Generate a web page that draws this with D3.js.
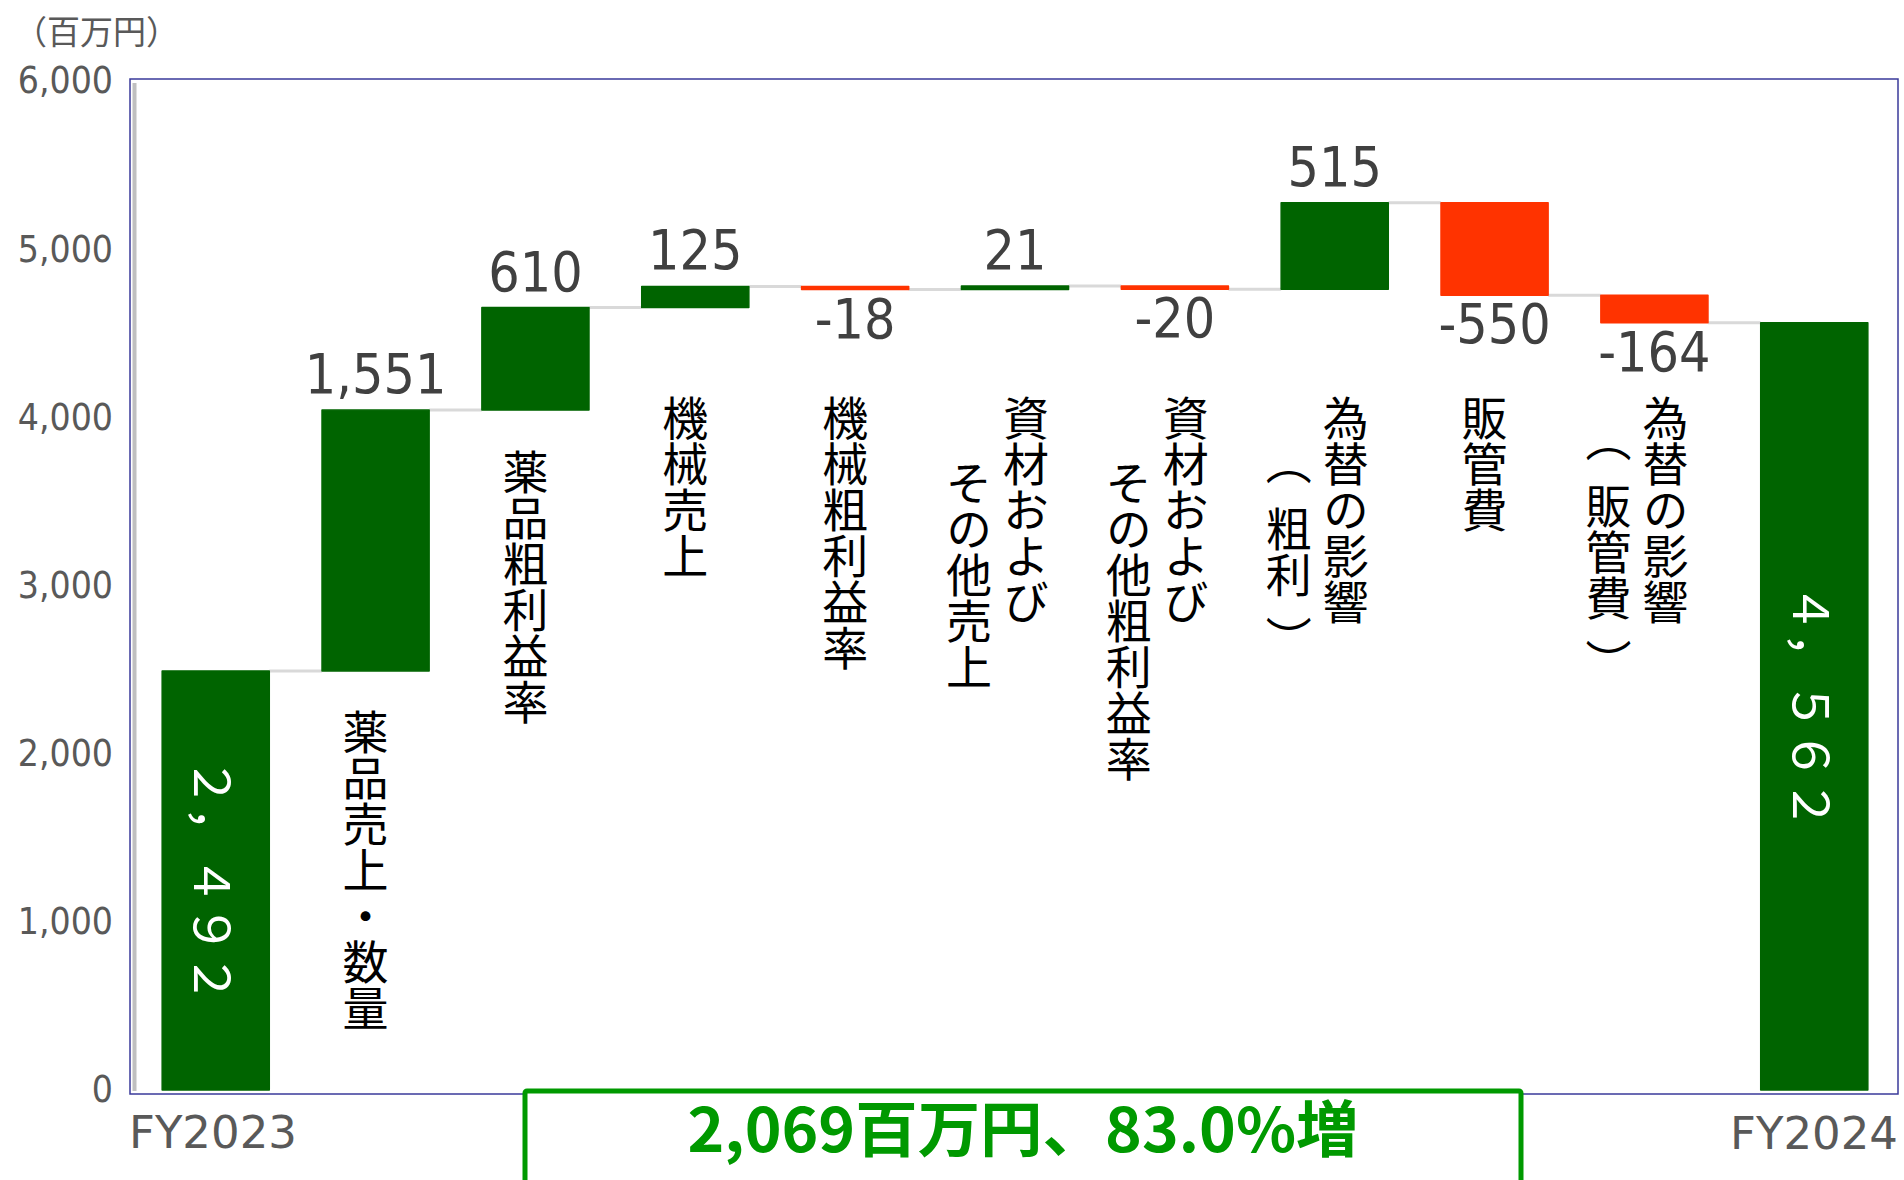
<!DOCTYPE html>
<html>
<head>
<meta charset="utf-8">
<script src="https://cdn.jsdelivr.net/npm/d3@7"></script>
<style>
body { margin: 0; background: #fff; }
svg { display: block; }
</style>
</head>
<body>
<div id="chart"></div>
<script>
// data
var categories = ["FY2023", "薬品売上・数量", "薬品粗利益率", "機械売上", "機械粗利益率",
	"資材およびその他売上", "資材およびその他粗利益率", "為替の影響（粗利）", "販管費",
	"為替の影響（販管費）", "FY2024"];
var labelLines = [[], ["薬品売上・数量"], ["薬品粗利益率"], ["機械売上"], ["機械粗利益率"],
	["資材および", "その他売上"], ["資材および", "その他粗利益率"], ["為替の影響", "（粗利）"],
	["販管費"], ["為替の影響", "（販管費）"], []];
var values = [2492, 1551, 610, 125, -18, 21, -20, 515, -550, -164, 4562];
var isTotal = [true, false, false, false, false, false, false, false, false, false, true];
var yTicks = [0, 1000, 2000, 3000, 4000, 5000, 6000];
var unitText = "（百万円）";
var summaryText = "2,069百万円、83.0%増";

var width = 1904, height = 1180;
var frame = {left: 130, top: 79, right: 1898, bottom: 1094};

var fmt = d3.formatLocale({decimal: ".", thousands: ",", grouping: [3], currency: ["", ""], minus: "-"}).format(",");

var svg = d3.select("#chart").append("svg")
	.attr("width", width)
	.attr("height", height);

var x = d3.scaleBand()
	.domain(categories)
	.range([135, 1895])
	.paddingInner(0.33)
	.paddingOuter(0.17);

var y = d3.scaleLinear()
	.domain([0, 6000])
	.range([1090, 81]);

// running totals for the waterfall
var run = 0;
var bars = values.map(function(v, i){
	var lo, hi, end;
	if (isTotal[i]) { lo = 0; hi = v; end = v; }
	else { lo = Math.min(run, run + v); hi = Math.max(run, run + v); end = run + v; }
	run = end;
	return {cat: categories[i], v: v, lo: lo, hi: hi, end: end, total: isTotal[i], lines: labelLines[i]};
});

var green = "#006400", red = "#ff3300";

// frame
svg.append("rect")
	.attr("x", frame.left).attr("y", frame.top)
	.attr("width", frame.right - frame.left)
	.attr("height", frame.bottom - frame.top)
	.attr("fill", "none")
	.attr("stroke", "#3a3a9a")
	.attr("stroke-width", 1.5);

// grey axis line
svg.append("line")
	.attr("x1", 134.5).attr("x2", 134.5)
	.attr("y1", y(6000) + 2).attr("y2", y(0) + 1)
	.attr("stroke", "#c0c0c0")
	.attr("stroke-width", 4);

// y axis labels
var yAxis = svg.append("g")
	.attr("transform", "translate(121,0)")
	.call(d3.axisLeft(y).tickValues(yTicks).tickSize(0).tickPadding(8).tickFormat(fmt));
yAxis.select(".domain").remove();
yAxis.selectAll("text")
	.attr("fill", "#595959")
	.style("font-family", "'DejaVu Sans Condensed', 'DejaVu Sans', sans-serif")
	.style("font-stretch", "condensed")
	.style("font-size", "37px");

svg.append("text")
	.attr("x", 14).attr("y", 44)
	.attr("fill", "#595959")
	.style("font-family", "'Noto Sans CJK JP', sans-serif")
	.style("font-size", "33px")
	.text(unitText);

// connectors
svg.selectAll(".conn")
	.data(bars.slice(0, -1))
	.enter()
	.append("line")
	.attr("class", "conn")
	.attr("x1", function(d){ return x(d.cat) + x.bandwidth(); })
	.attr("x2", function(d, i){ return x(categories[i + 1]); })
	.attr("y1", function(d){ return y(d.end); })
	.attr("y2", function(d){ return y(d.end); })
	.attr("stroke", "#d9d9d9")
	.attr("stroke-width", 3);

// bars
svg.selectAll(".bar")
	.data(bars)
	.enter()
	.append("rect")
	.attr("class", "bar")
	.attr("x", function(d){ return x(d.cat); })
	.attr("width", x.bandwidth())
	.attr("y", function(d){ return y(d.hi); })
	.attr("height", function(d){ return y(d.lo) - y(d.hi); })
	.attr("fill", function(d){ return d.v < 0 ? red : green; })
	.attr("stroke", function(d){ return d.v < 0 ? red : green; })
	.attr("stroke-width", 1.5)
	.attr("stroke-linejoin", "round");

// value labels for the steps
var numFont = "'DejaVu Sans Condensed', 'DejaVu Sans', sans-serif";
svg.selectAll(".val")
	.data(bars.filter(function(d){ return !d.total; }))
	.enter()
	.append("text")
	.attr("class", "val")
	.attr("x", function(d){ return x(d.cat) + x.bandwidth() / 2; })
	.attr("y", function(d){ return d.v < 0 ? y(d.lo) + 48 : y(d.hi) - 17; })
	.attr("text-anchor", "middle")
	.attr("fill", "#404040")
	.style("font-family", numFont)
	.style("font-stretch", "condensed")
	.style("font-size", "55px")
	.text(function(d){ return fmt(d.v); });

// totals inside bars, full-width and turned
function fullWidth(s){
	return s.replace(/[0-9,]/g, function(c){ return String.fromCharCode(c.charCodeAt(0) + 0xFEE0); });
}
svg.selectAll(".tot")
	.data(bars.filter(function(d){ return d.total; }))
	.enter()
	.append("text")
	.attr("class", "tot")
	.attr("transform", function(d){
		return "translate(" + (x(d.cat) + x.bandwidth() / 2) + "," + ((y(d.lo) + y(d.hi)) / 2) + ") rotate(90)";
	})
	.attr("text-anchor", "middle")
	.attr("dominant-baseline", "central")
	.attr("fill", "#fff")
	.style("font-family", "'Noto Sans CJK JP', sans-serif")
	.style("font-size", "49px")
	.text(function(d){ return fullWidth(fmt(d.v)); });

// vertical category labels
var catSize = 46;
var indent = {"（販管費）": 0.9};
var parenShift = {"（": -0.45, "）": 0.4};
bars.forEach(function(d){
	var c = x(d.cat) + x.bandwidth() / 2;
	var top = Math.max(395, y(d.lo) + 38);
	d.lines.forEach(function(line, j){
		var cx = d.lines.length == 1 ? c - 10 : (j == 0 ? c + 11 : c - 46);
		var off = j == 0 ? 0 : (indent[line] != null ? indent[line] : 1.4) * catSize;
		var t = svg.append("text")
			.attr("x", cx)
			.attr("y", top + off)
			.style("writing-mode", "vertical-rl")
			.attr("fill", "#000")
			.style("font-family", "'Noto Sans CJK JP', sans-serif")
			.style("font-size", catSize + "px");
		// brackets sit in the middle of their cell in the original
		var shift = 0;
		line.split(/([（）])/).filter(Boolean).forEach(function(tok){
			var target = parenShift[tok] || 0;
			t.append("tspan").attr("dy", ((target - shift) * catSize) + "px").text(tok);
			shift = target;
		});
	});
});

// first / last category names
svg.append("text")
	.attr("x", frame.left - 1).attr("y", 1148)
	.attr("fill", "#595959")
	.style("font-family", "'DejaVu Sans', sans-serif")
	.style("font-size", "45px")
	.text(categories[0]);
svg.append("text")
	.attr("x", frame.right).attr("y", 1149)
	.attr("text-anchor", "end")
	.attr("fill", "#595959")
	.style("font-family", "'DejaVu Sans', sans-serif")
	.style("font-size", "45px")
	.text(categories[categories.length - 1]);

// summary box
svg.append("rect")
	.attr("x", 525).attr("y", 1091)
	.attr("width", 996).attr("height", 120)
	.attr("fill", "#fff")
	.attr("stroke", "#009900")
	.attr("stroke-width", 5)
	.attr("rx", 2);
svg.append("text")
	.attr("x", 1023).attr("y", 1152)
	.attr("text-anchor", "middle")
	.attr("fill", "#009900")
	.attr("textLength", 671)
	.attr("lengthAdjust", "spacingAndGlyphs")
	.style("font-family", "'Noto Sans CJK JP', sans-serif")
	.style("font-weight", "700")
	.style("font-size", "61px")
	.text(summaryText);
</script>
</body>
</html>
